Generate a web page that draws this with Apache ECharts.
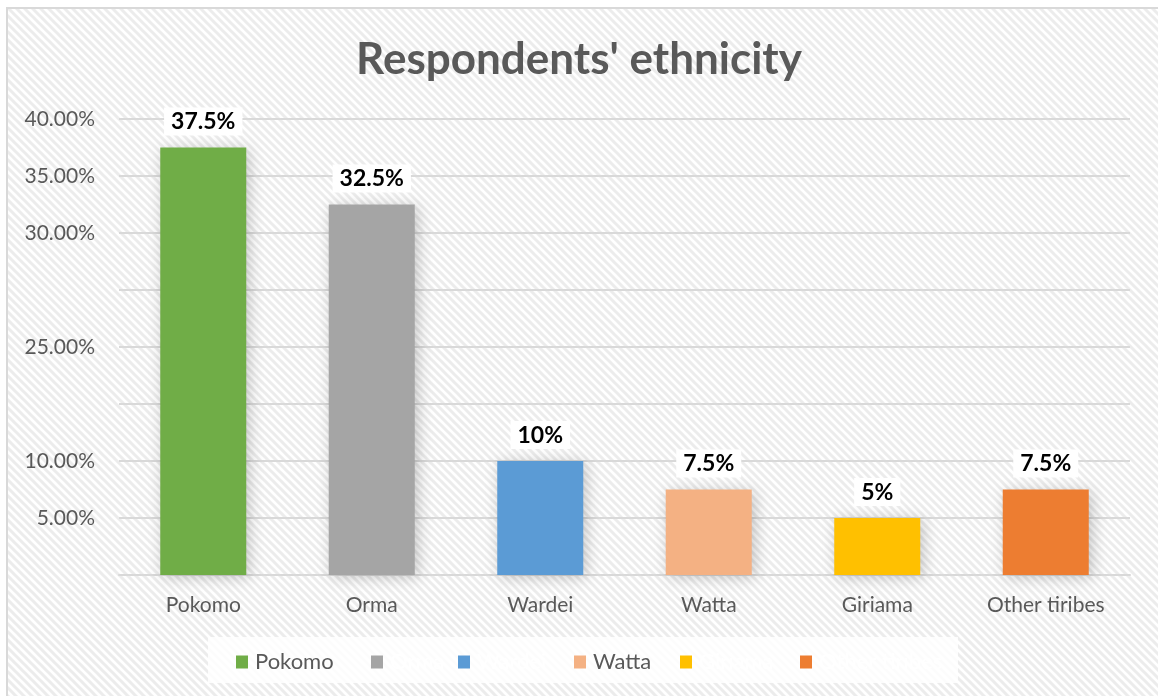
<!DOCTYPE html>
<html>
<head>
<meta charset="utf-8">
<script src="https://cdn.jsdelivr.net/npm/echarts@6/dist/echarts.min.js"></script>
<style>
html,body{margin:0;padding:0;background:#fff;}
#chart{width:1158px;height:696px;}
</style>
</head>
<body>
<div id="chart"></div>
<script>
// ---- data ----
var titleText = "Respondents' ethnicity";
var categories = ['Pokomo', 'Orma', 'Wardei', 'Watta', 'Giriama', 'Other tiribes'];
var values = [37.5, 32.5, 10, 7.5, 5, 7.5];
// y tick labels as printed in the reference (ticks at 0,5,...,40)
var yTickLabels = ['', '5.00%', '10.00%', '', '25.00%', '', '30.00%', '35.00%', '40.00%'];
// legend entries whose text is shown (others are white)
var legendVisible = [true, false, false, true, false, false];

// ---- styles ----
var colors = ['#70ad47', '#a5a5a5', '#5b9bd5', '#f4b183', '#ffc000', '#ed7d31'];
var legendLeft = [236, 371, 458, 574, 680, 800];
var FONT = 'Lato, "Liberation Sans", sans-serif';

// stripe pattern
var pc = document.createElement('canvas');
pc.width = 8; pc.height = 8;
var g = pc.getContext('2d');
g.fillStyle = '#ffffff'; g.fillRect(0, 0, 8, 8);
g.strokeStyle = '#ececec'; g.lineWidth = 3;
g.beginPath();
g.moveTo(-2, -2); g.lineTo(10, 10);
g.moveTo(-10, -2); g.lineTo(2, 10);
g.moveTo(6, -2); g.lineTo(18, 10);
g.stroke();

var chart = echarts.init(document.getElementById('chart'), null, {renderer: 'canvas'});

var series = categories.map(function (c, i) {
  return {
    name: c,
    type: 'bar',
    stack: 'all',
    barWidth: 86,
    data: values.map(function (v, j) { return j === i ? v : '-'; }),
    itemStyle: {
      color: colors[i],
      shadowColor: 'rgba(0,0,0,0.22)',
      shadowBlur: 14,
      shadowOffsetX: 3,
      shadowOffsetY: 2
    },
    label: {
      show: true,
      position: 'top',
      distance: 12,
      formatter: function (p) { return p.value + '%'; },
      backgroundColor: '#ffffff',
      padding: [3, 7, 2, 7],
      color: '#000000',
      fontWeight: 'bold',
      fontSize: 23,
      fontFamily: FONT
    }
  };
});

var legends = categories.map(function (c, i) {
  return {
    data: [c],
    left: legendLeft[i],
    top: 651,
    padding: 0,
    icon: 'rect',
    itemWidth: 12,
    itemHeight: 13,
    selectedMode: false,
    textStyle: {
      color: legendVisible[i] ? '#595959' : '#ffffff',
      fontSize: 22,
      fontFamily: FONT,
      padding: [0, 0, 0, 2]
    }
  };
});

chart.setOption({
  animation: false,
  backgroundColor: '#ffffff',
  graphic: [
    {
      type: 'rect', z: -10, silent: true,
      shape: {x: 7, y: 8, width: 1170, height: 710},
      style: {fill: {image: pc, repeat: 'repeat'}, stroke: '#d9d9d9', lineWidth: 2}
    },
    {
      type: 'rect', z: -9, silent: true,
      shape: {x: 208, y: 637, width: 750, height: 46},
      style: {fill: 'rgba(255,255,255,0.85)'}
    }
  ],
  title: {
    text: titleText,
    left: 'center',
    top: 33,
    textStyle: {color: '#595959', fontSize: 44, fontWeight: 'bold', fontFamily: FONT}
  },
  legend: legends,
  grid: {left: 119, right: 28, top: 119, bottom: 121, containLabel: false},
  xAxis: {
    type: 'category',
    data: categories,
    axisTick: {show: false},
    axisLine: {show: true, lineStyle: {color: '#d9d9d9', width: 2}},
    axisLabel: {color: '#595959', fontSize: 21, fontFamily: FONT, margin: 20}
  },
  yAxis: {
    type: 'value',
    min: 0, max: 40, interval: 5,
    axisLine: {show: false},
    axisTick: {show: false},
    splitLine: {lineStyle: {color: '#d9d9d9', width: 2}},
    axisLabel: {
      color: '#595959', fontSize: 21, fontFamily: FONT, margin: 24,
      formatter: function (v) { return yTickLabels[Math.round(v / 5)] || ''; }
    }
  },
  series: series
});
</script>
</body>
</html>
